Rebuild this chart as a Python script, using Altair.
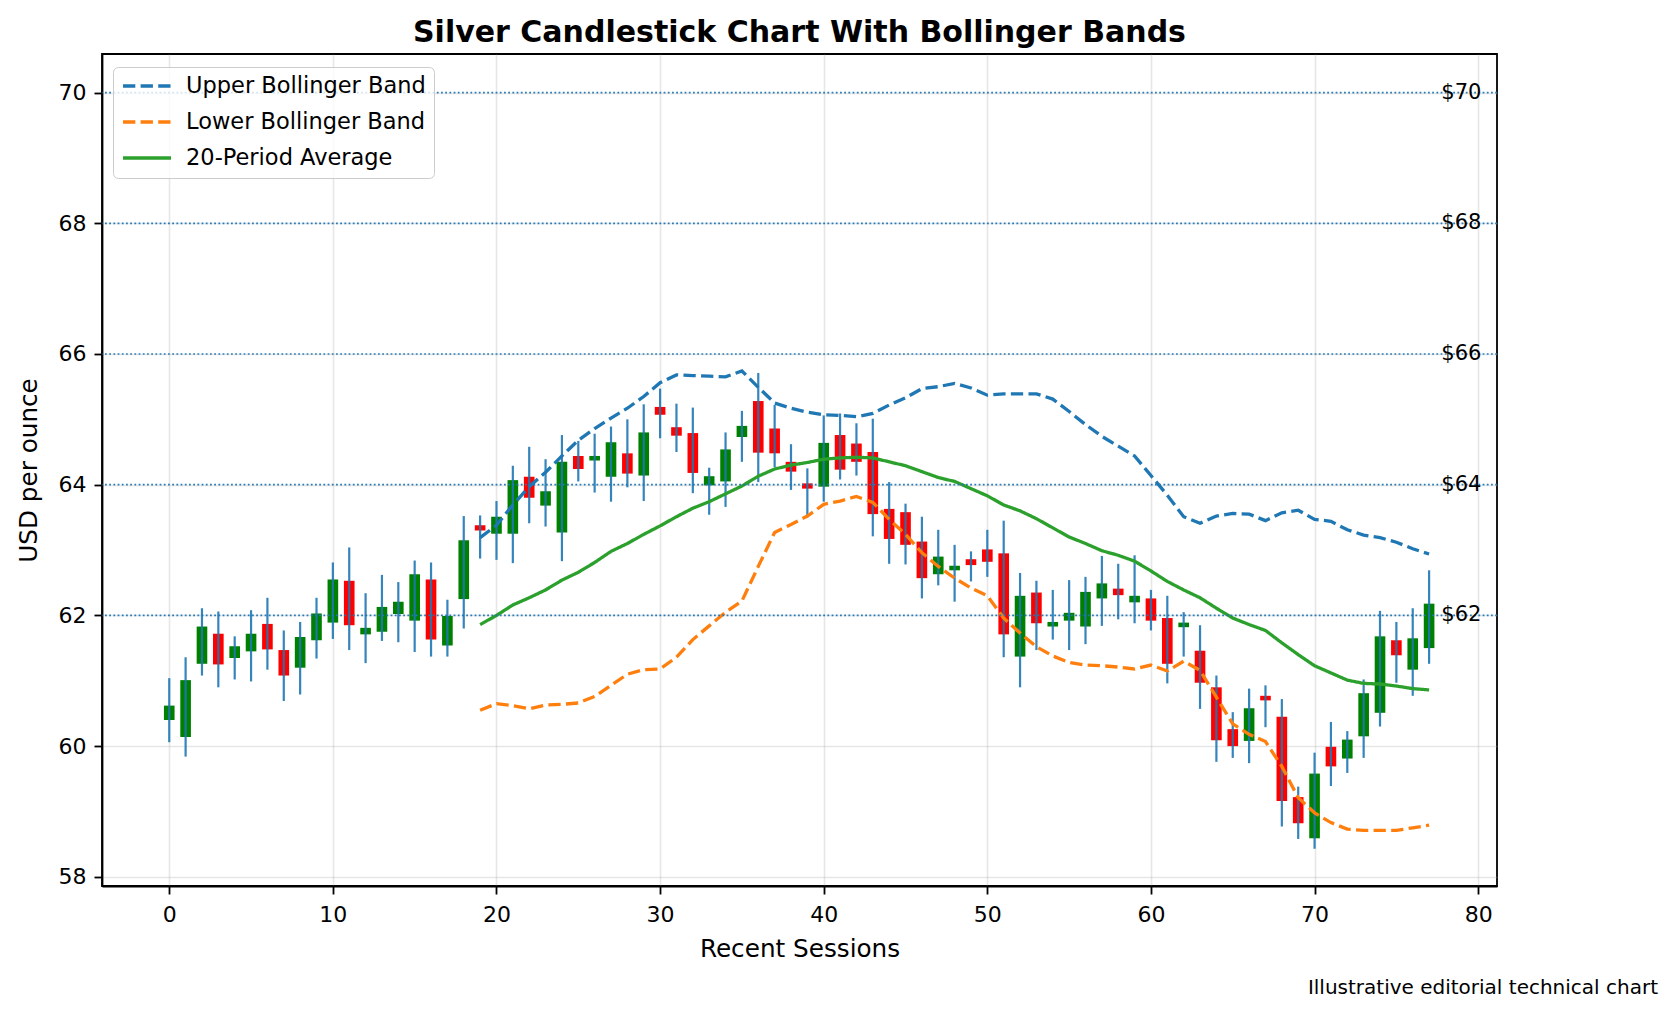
import altair as alt
import pandas as pd

# ---------------- data ----------------
session = list(range(78))
opens = [60.40, 60.14, 61.26, 61.72, 61.35, 61.45, 61.87, 61.47, 61.20, 61.62,
         61.89, 62.53, 61.71, 61.75, 62.02, 61.92, 62.55, 61.54, 62.25, 63.38,
         63.25, 63.25, 64.12, 63.68, 63.27, 64.44, 64.37, 64.12, 64.48, 64.14,
         65.19, 64.88, 64.79, 63.99, 64.05, 64.73, 65.28, 64.86, 64.35, 64.02,
         63.97, 64.76, 64.63, 64.50, 63.63, 63.58, 63.13, 62.63, 62.69, 62.86,
         63.01, 62.95, 61.37, 62.35, 61.83, 61.92, 61.83, 62.26, 62.41, 62.20,
         62.26, 61.96, 61.82, 61.46, 60.90, 60.26, 60.08, 60.77, 60.45, 59.22,
         58.59, 59.99, 59.81, 60.15, 60.51, 61.62, 61.17, 61.50]
closes = [60.62, 61.01, 61.83, 61.25, 61.53, 61.72, 61.48, 61.08, 61.67, 62.03,
          62.55, 61.85, 61.81, 62.13, 62.21, 62.63, 61.63, 61.99, 63.15, 63.30,
          63.51, 64.07, 63.80, 63.90, 64.35, 64.24, 64.44, 64.65, 64.17, 64.80,
          65.07, 64.75, 64.18, 64.13, 64.54, 64.90, 64.49, 64.48, 64.20, 63.94,
          64.64, 64.23, 64.35, 63.55, 63.17, 63.08, 62.57, 62.90, 62.76, 62.77,
          62.82, 61.71, 62.30, 61.88, 61.90, 62.04, 62.36, 62.49, 62.31, 62.30,
          61.92, 61.26, 61.89, 60.97, 60.09, 60.00, 60.58, 60.70, 59.16, 58.82,
          59.58, 59.69, 60.10, 60.81, 61.68, 61.39, 61.65, 62.18]
highs = [61.04, 61.36, 62.11, 62.06, 61.68, 62.08, 62.27, 61.77, 61.90, 62.27,
         62.81, 63.04, 62.34, 62.62, 62.51, 62.84, 62.81, 62.24, 63.52, 63.53,
         63.75, 64.29, 64.58, 64.39, 64.76, 64.67, 64.78, 64.89, 65.00, 65.23,
         65.47, 65.24, 65.18, 64.26, 64.80, 65.13, 65.71, 65.22, 64.62, 64.25,
         65.06, 65.09, 64.94, 65.01, 64.04, 63.71, 63.51, 63.31, 63.08, 62.98,
         63.31, 63.45, 62.65, 62.53, 62.39, 62.54, 62.59, 62.91, 62.79, 62.92,
         62.39, 62.30, 62.05, 61.85, 61.08, 60.52, 60.88, 60.93, 60.72, 59.38,
         59.90, 60.37, 60.23, 61.02, 62.07, 61.90, 62.11, 62.69]
lows = [60.06, 59.84, 61.08, 60.90, 61.02, 60.99, 61.17, 60.69, 60.79, 61.34,
        61.64, 61.47, 61.27, 61.61, 61.59, 61.44, 61.37, 61.37, 61.80, 62.87,
        62.85, 62.80, 63.41, 63.36, 62.83, 64.05, 63.88, 63.74, 63.96, 63.75,
        64.71, 64.50, 63.87, 63.54, 63.66, 64.35, 64.04, 64.27, 63.92, 63.50,
        63.74, 64.08, 64.14, 63.21, 62.79, 62.78, 62.26, 62.46, 62.21, 62.52,
        62.59, 61.36, 60.90, 61.47, 61.63, 61.47, 61.56, 61.84, 61.94, 61.88,
        61.77, 60.96, 61.37, 60.57, 59.76, 59.82, 59.74, 60.29, 58.77, 58.58,
        58.43, 59.39, 59.59, 59.82, 60.30, 60.97, 60.77, 61.26]

band_sessions = list(range(19, 78))
upper_band = [63.19, 63.38, 63.69, 63.97, 64.19, 64.44, 64.68, 64.86, 65.02, 65.17,
              65.35, 65.56, 65.68, 65.67, 65.66, 65.65, 65.74, 65.49, 65.25, 65.17,
              65.11, 65.07, 65.06, 65.04, 65.09, 65.22, 65.33, 65.47, 65.50, 65.55,
              65.48, 65.37, 65.39, 65.39, 65.39, 65.31, 65.12, 64.92, 64.74, 64.59,
              64.44, 64.14, 63.84, 63.51, 63.41, 63.52, 63.56, 63.55, 63.45, 63.57,
              63.61, 63.47, 63.44, 63.31, 63.23, 63.19, 63.12, 63.02, 62.94]
middle_band = [61.86, 62.00, 62.16, 62.27, 62.39, 62.54, 62.66, 62.81, 62.98, 63.10,
               63.24, 63.37, 63.51, 63.64, 63.74, 63.86, 63.98, 64.13, 64.24, 64.30,
               64.34, 64.39, 64.41, 64.42, 64.41, 64.35, 64.29, 64.20, 64.11, 64.05,
               63.94, 63.83, 63.69, 63.60, 63.48, 63.34, 63.20, 63.10, 62.99, 62.92,
               62.83, 62.68, 62.52, 62.39, 62.27, 62.11, 61.96, 61.86, 61.77, 61.58,
               61.40, 61.23, 61.12, 61.01, 60.96, 60.95, 60.92, 60.88, 60.86]
lower_band = [60.55, 60.65, 60.62, 60.57, 60.63, 60.64, 60.66, 60.76, 60.93, 61.10,
              61.17, 61.18, 61.36, 61.63, 61.84, 62.05, 62.22, 62.75, 63.27, 63.39,
              63.52, 63.70, 63.75, 63.82, 63.73, 63.47, 63.24, 62.96, 62.75, 62.57,
              62.42, 62.30, 61.96, 61.73, 61.52, 61.38, 61.28, 61.24, 61.23, 61.21,
              61.18, 61.24, 61.15, 61.30, 61.16, 60.75, 60.34, 60.18, 60.07, 59.69,
              59.21, 58.98, 58.83, 58.73, 58.71, 58.71, 58.71, 58.75, 58.79]

series_names = ["Upper Bollinger Band", "Lower Bollinger Band", "20-Period Average"]
series_colors = ["#1f77b4", "#ff7f0e", "#2ca02c"]
price_levels = [62, 64, 66, 68, 70]
x_ticks = [0, 10, 20, 30, 40, 50, 60, 70, 80]
y_ticks = [58, 60, 62, 64, 66, 68, 70]
title_text = "Silver Candlestick Chart With Bollinger Bands"
footer_text = "Illustrative editorial technical chart"

# ---------------- tables ----------------
candles = pd.DataFrame({"i": session, "open": opens, "close": closes,
                        "high": highs, "low": lows})
bands = pd.concat([
    pd.DataFrame({"i": band_sessions, "value": upper_band, "series": series_names[0]}),
    pd.DataFrame({"i": band_sessions, "value": lower_band, "series": series_names[1]}),
    pd.DataFrame({"i": band_sessions, "value": middle_band, "series": series_names[2]}),
], ignore_index=True)
levels = pd.DataFrame({"y": price_levels, "label": [f"${v}" for v in price_levels]})

FONT = "DejaVu Sans"
x_scale = alt.Scale(domain=[-4.11, 81.15], nice=False, zero=False)
y_scale = alt.Scale(domain=[57.86, 70.59], nice=False, zero=False)
x_axis = alt.Axis(title="Recent Sessions", values=x_ticks, grid=True, labelFlush=False,
                  labelPadding=10, titlePadding=11)
y_axis = alt.Axis(title="USD per ounce", values=y_ticks, grid=True, labelFlush=False,
                  labelPadding=8, titlePadding=17)


def X(field):
    return alt.X(field, scale=x_scale, axis=x_axis)


def Y(field):
    return alt.Y(field, scale=y_scale, axis=y_axis)


bodies = alt.Chart(candles).transform_calculate(
    x0="datum.i - 0.325", x1="datum.i + 0.325"
).mark_rect().encode(
    x=X("x0:Q"), x2="x1:Q",
    y=Y("open:Q"), y2="close:Q",
    color=alt.condition("datum.close >= datum.open", alt.value("#008000"), alt.value("#ff0000")),
)

wicks = alt.Chart(candles).mark_rule(color="#1f77b4", strokeWidth=2.2, opacity=0.9).encode(
    x=X("i:Q"), y=Y("low:Q"), y2="high:Q"
)

lines = alt.Chart(bands).mark_line(strokeWidth=3.3).encode(
    x=X("i:Q"),
    y=Y("value:Q"),
    color=alt.Color("series:N", scale=alt.Scale(domain=series_names, range=series_colors),
                    legend=alt.Legend(title=None)),
    strokeDash=alt.StrokeDash("series:N",
                              scale=alt.Scale(domain=series_names,
                                              range=[[12.3, 5.3], [12.3, 5.3], [1, 0]]),
                              legend=alt.Legend(title=None)),
)

hrules = alt.Chart(levels).mark_rule(color="#1f77b4", strokeWidth=1.7,
                                     strokeDash=[1.8, 2.4], opacity=0.95).encode(
    y=Y("y:Q")
)

level_labels = alt.Chart(levels).transform_calculate(lx="80.2").mark_text(
    align="right", baseline="middle", fontSize=21, font=FONT, color="black"
).encode(x=X("lx:Q"), y=Y("y:Q"), text="label:N")

footer = alt.Chart(pd.DataFrame({"t": [footer_text]})).mark_text(
    align="right", baseline="middle", fontSize=20, font=FONT, color="black"
).encode(x=alt.value(1556), y=alt.value(934), text="t:N")

chart = alt.layer(bodies, wicks, lines, hrules, level_labels, footer).properties(
    width=1395, height=832,
    title=alt.TitleParams(title_text, font=FONT, fontSize=30, fontWeight="bold",
                          anchor="middle", color="black", offset=6),
    autosize=alt.AutoSizeParams(type="none"),
    padding={"left": 94, "top": 46, "right": 164, "bottom": 115},
).configure_view(
    stroke="black", strokeWidth=1.8
).configure_axis(
    domainColor="black", domainWidth=1.8, tickColor="black", tickWidth=1.8, tickSize=8,
    labelFont=FONT, labelFontSize=22, labelColor="black",
    titleFont=FONT, titleFontSize=24.7, titleFontWeight="normal", titleColor="black",
    gridColor="#b0b0b0", gridOpacity=0.3, gridWidth=1.6,
).configure_legend(
    orient="none", legendX=11, legendY=13, padding=8,
    fillColor="rgba(255,255,255,0.8)", strokeColor="#cccccc", cornerRadius=5,
    labelFont=FONT, labelFontSize=22.5, labelColor="black", labelOffset=13,
    symbolType="stroke", symbolSize=2300, symbolStrokeWidth=3.3,
    clipHeight=22, rowPadding=13, labelLimit=400,
)

chart.save("out.html", embed_options={"renderer": "svg", "actions": False})
